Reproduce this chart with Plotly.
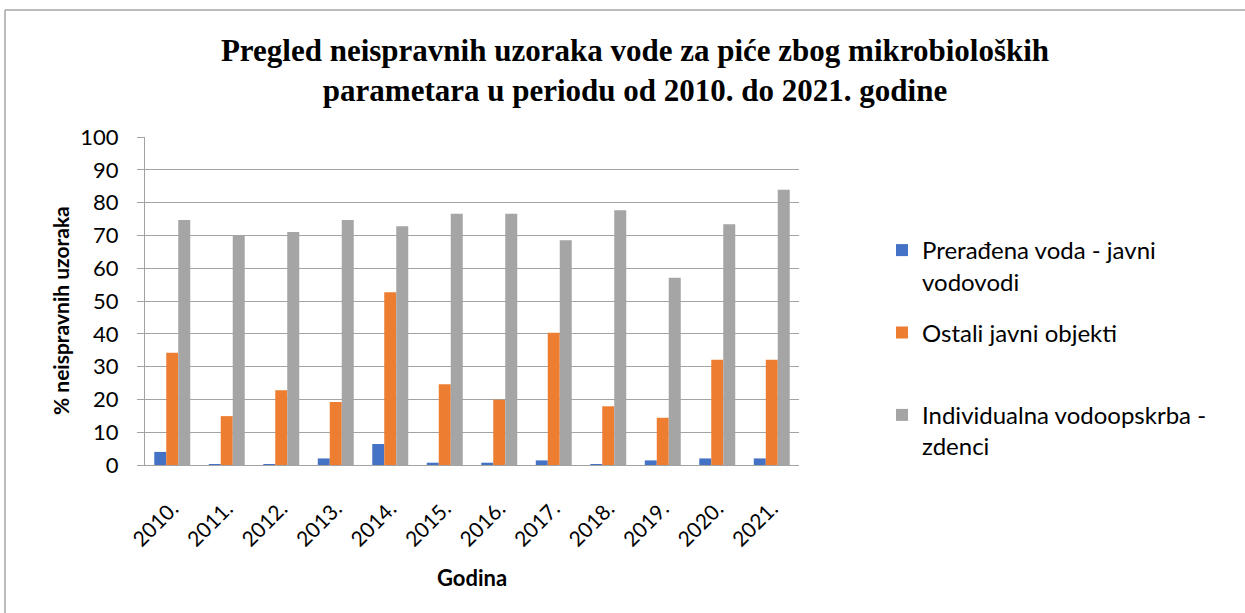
import plotly.graph_objects as go

# Godine (kategorije na osi x)
years = ["2010.", "2011.", "2012.", "2013.", "2014.", "2015.",
         "2016.", "2017.", "2018.", "2019.", "2020.", "2021."]

# % neispravnih uzoraka po vrsti vodoopskrbe
javni_vodovodi = [4.0, 0.3, 0.3, 2.0, 6.4, 0.7, 0.7, 1.4, 0.3, 1.4, 2.0, 2.0]
ostali_objekti = [34.2, 14.9, 22.8, 19.2, 52.7, 24.6, 19.9, 40.3, 17.9, 14.4, 32.1, 32.1]
zdenci = [74.7, 69.8, 71.0, 74.7, 72.8, 76.6, 76.6, 68.5, 77.7, 57.1, 73.4, 83.9]

series_names = ["Prerađena voda - javni<br>vodovodi",
                "Ostali javni objekti<br>\u00a0",
                "Individualna vodoopskrba -<br>zdenci"]
colors = ["#4472C4", "#ED7D31", "#A5A5A5"]

W, H = 1245, 613
ML, MR, MT, MB = 145, 446, 137, 148
PW, PH = W - ML - MR, H - MT - MB


def px_x(px):
    return (px - ML) / PW


def px_y(py):
    return (H - MB - py) / PH


fig = go.Figure()
for name, vals, col in zip(series_names, [javni_vodovodi, ostali_objekti, zdenci], colors):
    fig.add_trace(go.Bar(x=years, y=vals, name=name, legendgroup=name,
                         marker=dict(color=col, line=dict(width=0))))

grid_col = "#a3a3a3"
fig.update_layout(
    width=W, height=H,
    margin=dict(l=ML, r=MR, t=MT, b=MB, autoexpand=False),
    paper_bgcolor="white", plot_bgcolor="white",
    barmode="group", bargap=0.34, bargroupgap=0,
    font=dict(family="Lato", color="#000000"),
    title=dict(
        text="<b>Pregled neispravnih uzoraka vode za piće zbog mikrobioloških<br>"
             "parametara u periodu od 2010. do 2021. godine</b>",
        font=dict(family="Liberation Serif", size=31, color="#000000"),
        x=635 / W, xanchor="center", xref="container",
        y=1 - 61 / H, yanchor="top", yref="container",
    ),
    xaxis=dict(
        showline=True, linecolor=grid_col, linewidth=1,
        ticks="", tickangle=-45, tickfont=dict(size=21),
        ticklabelstandoff=22,
        showgrid=False,
    ),
    yaxis=dict(
        range=[0, 100], dtick=10, showgrid=True, gridcolor=grid_col, gridwidth=1,
        showline=True, linecolor=grid_col, linewidth=1,
        ticks="outside", ticklen=7, tickcolor=grid_col,
        tickfont=dict(size=22), ticklabelstandoff=14,
        zeroline=False,
    ),
    legend=dict(
        x=px_x(882), xanchor="left", y=px_y(228), yanchor="top",
        font=dict(size=24), valign="top", tracegroupgap=17,
        bgcolor="rgba(0,0,0,0)",
    ),
    annotations=[
        dict(text="<b>% neispravnih uzoraka</b>", textangle=-90,
             x=px_x(60), y=px_y(311), xref="paper", yref="paper",
             xanchor="center", yanchor="middle", showarrow=False,
             font=dict(size=21, family="Lato", color="#000000")),
        dict(text="<b>Godina</b>",
             x=0.5, y=px_y(577), xref="paper", yref="paper",
             xanchor="center", yanchor="middle", showarrow=False,
             font=dict(size=22, family="Lato", color="#000000")),
    ],
    shapes=[
        dict(type="line", xref="paper", yref="paper",
             x0=px_x(5), x1=px_x(W + 5), y0=px_y(10), y1=px_y(10),
             line=dict(color="#a6a6a6", width=1.5)),
        dict(type="line", xref="paper", yref="paper",
             x0=px_x(5), x1=px_x(5), y0=px_y(10), y1=px_y(H + 5),
             line=dict(color="#a6a6a6", width=1.5)),
    ],
)

fig.write_html("out.html")
